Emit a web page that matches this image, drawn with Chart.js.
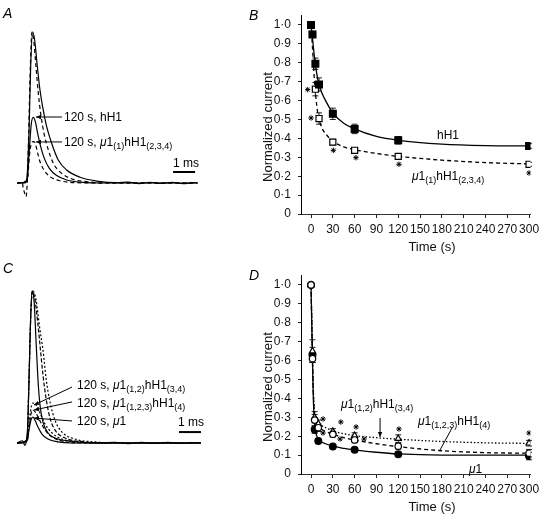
<!DOCTYPE html>
<html><head><meta charset="utf-8">
<script src="https://cdn.jsdelivr.net/npm/chart.js@4.4.0/dist/chart.umd.min.js"></script>
<style>
html,body{margin:0;padding:0;background:#fff;width:545px;height:519px;overflow:hidden;}
body{position:relative;}
canvas{position:absolute;}
.t{position:absolute;font-family:'Liberation Sans',Arial,sans-serif;font-size:12px;line-height:12px;white-space:nowrap;color:#000;}
.t sub{font-size:9px;line-height:0;position:relative;top:3px;vertical-align:baseline;}
.L{position:absolute;font-family:'Liberation Sans',Arial,sans-serif;font-style:italic;font-size:14px;line-height:14px;color:#000;}
.ax{position:absolute;font-family:'Liberation Sans',Arial,sans-serif;font-size:13px;line-height:14px;white-space:nowrap;color:#111;transform:translate(-50%,-50%);}
.ay{position:absolute;font-family:'Liberation Sans',Arial,sans-serif;font-size:13px;line-height:14px;white-space:nowrap;color:#111;transform:translate(-50%,-50%) rotate(-90deg);}
</style></head><body>
<canvas id="cA" width="260" height="260" style="left:0;top:0"></canvas>
<canvas id="cB" width="300" height="260" style="left:245px;top:0"></canvas>
<canvas id="cC" width="260" height="259" style="left:0;top:260px"></canvas>
<canvas id="cD" width="300" height="260" style="left:245px;top:260px"></canvas>

<div class="L" style="left:3px;top:6px">A</div>
<div class="L" style="left:249px;top:8px">B</div>
<div class="L" style="left:3px;top:261px">C</div>
<div class="L" style="left:249px;top:268px">D</div>

<div class="ay" style="left:268px;top:127px">Normalized current</div>
<div class="ax" style="left:432px;top:247px">Time (s)</div>
<div class="ay" style="left:268px;top:387px">Normalized current</div>
<div class="ax" style="left:432px;top:507px">Time (s)</div>

<div class="t" style="left:64px;top:111px">120 s, hH1</div>
<div class="t" style="left:64px;top:136px">120 s, <i>μ</i>1<sub>(1)</sub>hH1<sub>(2,3,4)</sub></div>
<div class="t" style="left:173px;top:157px">1 ms</div>

<div class="t" style="left:437px;top:129px">hH1</div>
<div class="t" style="left:412px;top:170px"><i>μ</i>1<sub>(1)</sub>hH1<sub>(2,3,4)</sub></div>

<div class="t" style="left:77px;top:379px">120 s, <i>μ</i>1<sub>(1,2)</sub>hH1<sub>(3,4)</sub></div>
<div class="t" style="left:77px;top:397px">120 s, <i>μ</i>1<sub>(1,2,3)</sub>hH1<sub>(4)</sub></div>
<div class="t" style="left:77px;top:415px">120 s, <i>μ</i>1</div>
<div class="t" style="left:178px;top:416px">1 ms</div>

<div class="t" style="left:341px;top:398px"><i>μ</i>1<sub>(1,2)</sub>hH1<sub>(3,4)</sub></div>
<div class="t" style="left:418px;top:415px"><i>μ</i>1<sub>(1,2,3)</sub>hH1<sub>(4)</sub></div>
<div class="t" style="left:469px;top:463px"><i>μ</i>1</div>

<script>
// ---------- Data ----------
const FONT = "'Liberation Sans', Arial, sans-serif";
const X_TICKS = [0, 30, 60, 90, 120, 150, 180, 210, 240, 270, 300];
const Y_TICKS = [0, 0.1, 0.2, 0.3, 0.4, 0.5, 0.6, 0.7, 0.8, 0.9, 1.0];
const Y_TICK_LABELS = ['0', '0·1', '0·2', '0·3', '0·4', '0·5', '0·6', '0·7', '0·8', '0·9', '1·0'];

// Panel B
const timesB = [0, 2, 6, 11, 30, 60, 120, 300];
const hH1 = [1.0, 0.95, 0.795, 0.685, 0.53, 0.45, 0.39, 0.36];
const hH1Err = [0, 0.01, 0.03, 0.035, 0.03, 0.025, 0.02, 0.012];
const mu1hH1 = [1.0, 0.95, 0.66, 0.505, 0.38, 0.337, 0.305, 0.263];
const mu1hH1Err = [0, 0.01, 0.035, 0.03, 0.015, 0.01, 0.012, 0.01];
const fitTimesB = [0, 2, 5, 8, 10, 15, 20, 30, 45, 60, 90, 120, 180, 240, 300];
const hH1Fit = [1.0, 0.93, 0.82, 0.74, 0.70, 0.64, 0.60, 0.535, 0.48, 0.45, 0.41, 0.39, 0.37, 0.362, 0.36];
const mu1hH1Fit = [1.0, 0.88, 0.69, 0.57, 0.52, 0.455, 0.425, 0.385, 0.355, 0.34, 0.32, 0.305, 0.285, 0.272, 0.265];
const starsB = [[-4.6, 0.658], [0, 0.508], [30.7, 0.337], [61.8, 0.298], [121, 0.263], [300, 0.217]];

// Panel D
const timesD = [0, 2, 5, 10, 30, 60, 120, 300];
const mu1 = [1.0, 0.63, 0.235, 0.175, 0.145, 0.128, 0.104, 0.095];
const mu1Err = [0, 0.04, 0.02, 0.01, 0.008, 0.008, 0.01, 0.02];
const mu12 = [1.0, 0.65, 0.30, 0.265, 0.225, 0.203, 0.187, 0.163];
const mu12Err = [0, 0.06, 0.03, 0.02, 0.015, 0.015, 0.02, 0.015];
const mu123 = [1.0, 0.61, 0.285, 0.245, 0.21, 0.18, 0.147, 0.11];
const mu123Err = [0, 0.02, 0.03, 0.02, 0.015, 0.015, 0.015, 0.02];
const fitTimesD = [0, 1, 2, 3, 5, 8, 10, 15, 20, 30, 45, 60, 90, 120, 180, 240, 300];
const mu1Fit = [1.0, 0.8, 0.6, 0.42, 0.26, 0.2, 0.185, 0.168, 0.16, 0.147, 0.136, 0.128, 0.115, 0.106, 0.1, 0.1, 0.1];
const mu123Fit = [1.0, 0.8, 0.6, 0.45, 0.3, 0.26, 0.25, 0.235, 0.225, 0.21, 0.193, 0.18, 0.16, 0.145, 0.123, 0.113, 0.11];
const mu12Fit = [1.0, 0.82, 0.65, 0.47, 0.32, 0.28, 0.27, 0.255, 0.245, 0.228, 0.213, 0.203, 0.192, 0.184, 0.172, 0.165, 0.162];
const starsD = [[16.5, 0.291], [16.5, 0.217], [41, 0.275], [40, 0.185], [62, 0.249], [73, 0.185], [121, 0.238], [300, 0.217]];

// Panel A current traces: [time (ms), normalized current]
const traceA_hH1_0 = [[-0.45,0],[-0.09,0],[0,0.042],[0.09,0.33],[0.167,0.77],[0.258,1.0],[0.348,0.947],[0.47,0.77],[0.59,0.616],[0.71,0.506],[0.894,0.373],[1.12,0.263],[1.42,0.152],[1.8,0.086],[2.41,0.038],[3.17,0.013],[4.08,0.002],[4.6,0.006],[5.1,-0.004],[5.6,0.005],[6.1,-0.003],[6.6,0.004],[7.1,-0.004],[7.6,0.003],[7.75,0]];
const traceA_mu_0 = [[-0.45,0],[-0.318,0],[-0.227,0.009],[-0.167,-0.035],[-0.106,-0.068],[-0.045,-0.09],[0.015,0.02],[0.076,0.33],[0.152,0.77],[0.227,1.0],[0.303,0.947],[0.409,0.77],[0.515,0.594],[0.621,0.461],[0.773,0.329],[0.97,0.219],[1.197,0.13],[1.576,0.064],[2.106,0.024],[2.864,0.007],[3.5,0],[7.75,0]];
const traceA_hH1_120 = [[-0.45,0],[0,0.009],[0.106,0.219],[0.197,0.395],[0.288,0.435],[0.379,0.406],[0.485,0.329],[0.621,0.241],[0.788,0.163],[1.015,0.097],[1.348,0.049],[1.803,0.02],[2.56,0.004],[3.5,0],[7.75,0]];
const traceA_mu_120 = [[-0.45,0],[0.015,0.02],[0.106,0.174],[0.197,0.263],[0.288,0.274],[0.379,0.263],[0.47,0.207],[0.591,0.141],[0.773,0.086],[1.045,0.042],[1.5,0.015],[2.258,0.002],[3.2,0],[7.75,0]];

// Panel C current traces
const traceC_mu1_0 = [[-0.45,0],[-0.2,0.015],[-0.1,-0.015],[-0.045,0],[0.045,0.151],[0.136,0.678],[0.227,1.0],[0.318,0.941],[0.409,0.678],[0.5,0.414],[0.59,0.25],[0.727,0.138],[0.955,0.066],[1.27,0.033],[1.95,0.013],[3.32,0],[4.0,0.005],[4.6,-0.004],[5.2,0.004],[5.8,-0.003],[6.4,0.004],[7.0,-0.003],[7.6,0.003],[7.9,0]];
const traceC_mu12_0 = [[-0.45,0],[0,0.02],[0.09,0.414],[0.18,0.875],[0.25,1.0],[0.364,0.941],[0.5,0.776],[0.59,0.645],[0.727,0.447],[0.864,0.296],[1.045,0.164],[1.27,0.086],[1.73,0.033],[2.64,0.007],[3.5,0],[7.9,0]];
const traceC_mu123_0 = [[-0.45,0],[0,0.02],[0.09,0.414],[0.18,0.875],[0.27,1.0],[0.41,0.941],[0.59,0.743],[0.727,0.612],[0.864,0.428],[1.045,0.27],[1.27,0.151],[1.59,0.072],[2.18,0.026],[3.09,0.007],[4,0],[7.9,0]];
const traceC_mu12_120 = [[-0.45,0],[0,0.013],[0.09,0.118],[0.18,0.23],[0.27,0.263],[0.41,0.25],[0.59,0.197],[0.82,0.125],[1.14,0.066],[1.59,0.026],[2.41,0.007],[3.2,0],[7.9,0]];
const traceC_mu123_120 = [[-0.45,0],[0,0.013],[0.09,0.099],[0.18,0.191],[0.27,0.217],[0.41,0.197],[0.59,0.145],[0.82,0.086],[1.14,0.039],[1.59,0.013],[2.3,0],[7.9,0]];
const traceC_mu1_120 = [[-0.45,0],[0,0.013],[0.09,0.086],[0.18,0.151],[0.27,0.171],[0.36,0.151],[0.5,0.105],[0.68,0.059],[0.95,0.026],[1.41,0.007],[2,0],[7.9,0]];

// ---------- Helpers ----------
const xy = (xs, ys) => xs.map((x, i) => ({x, y: ys[i]}));
const pairs = arr => arr.map(p => ({x: p[0], y: p[1]}));

const marksPlugin = {
  id: 'marks',
  beforeDatasetsDraw(chart) {
    const ctx = chart.ctx, ys = chart.scales.y;
    ctx.save();
    ctx.strokeStyle = '#222'; ctx.lineWidth = 1; ctx.setLineDash([]);
    chart.data.datasets.forEach((ds, di) => {
      if (!ds.errors) return;
      const meta = chart.getDatasetMeta(di);
      meta.data.forEach((pt, j) => {
        const e = ds.errors[j]; if (!e) return;
        const v = ds.data[j].y;
        const y1 = ys.getPixelForValue(v - e), y2 = ys.getPixelForValue(v + e);
        ctx.beginPath();
        ctx.moveTo(pt.x, y1); ctx.lineTo(pt.x, y2);
        ctx.moveTo(pt.x - 3, y1); ctx.lineTo(pt.x + 3, y1);
        ctx.moveTo(pt.x - 3, y2); ctx.lineTo(pt.x + 3, y2);
        ctx.stroke();
      });
    });
    ctx.restore();
  },
  afterDatasetsDraw(chart, args, o) {
    const {ctx} = chart, xs = chart.scales.x, ys = chart.scales.y;
    ctx.save();
    ctx.strokeStyle = '#000'; ctx.fillStyle = '#000'; ctx.setLineDash([]);
    (o.arrows || []).forEach(a => {
      const x1 = xs.getPixelForValue(a.from[0]), y1 = ys.getPixelForValue(a.from[1]);
      const x2 = xs.getPixelForValue(a.to[0]), y2 = ys.getPixelForValue(a.to[1]);
      ctx.lineWidth = 1;
      ctx.beginPath(); ctx.moveTo(x1, y1); ctx.lineTo(x2, y2); ctx.stroke();
      if (a.head) {
        const ang = Math.atan2(y2 - y1, x2 - x1), L = 5, W = 2.2;
        const c = Math.cos(ang), s = Math.sin(ang);
        ctx.beginPath(); ctx.moveTo(x2, y2);
        ctx.lineTo(x2 - L * c + W * s, y2 - L * s - W * c);
        ctx.lineTo(x2 - L * c - W * s, y2 - L * s + W * c);
        ctx.closePath(); ctx.fill();
      }
    });
    (o.bars || []).forEach(b => {
      ctx.lineWidth = 2;
      const y = ys.getPixelForValue(b.y);
      ctx.beginPath(); ctx.moveTo(xs.getPixelForValue(b.x0), y); ctx.lineTo(xs.getPixelForValue(b.x1), y); ctx.stroke();
    });
    ctx.restore();
  }
};
Chart.register(marksPlugin);

function traceDs(arr, dash, width) {
  return {data: pairs(arr), showLine: true, borderColor: '#000', borderWidth: width || 1.2,
          borderDash: dash || [], pointRadius: 0, cubicInterpolationMode: 'monotone', fill: false};
}

function traceChart(id, datasets, pad, ymin, ymax, marks) {
  return new Chart(document.getElementById(id), {
    type: 'line',
    data: {datasets},
    options: {
      responsive: false, animation: false, devicePixelRatio: 1,
      layout: {padding: pad},
      plugins: {legend: {display: false}, tooltip: {enabled: false}, marks},
      scales: {
        x: {type: 'linear', display: false, min: -0.7727, max: 8.5455},
        y: {type: 'linear', display: false, min: ymin, max: ymax}
      }
    }
  });
}

function fitDs(xs, ys, dash) {
  return {data: xy(xs, ys), showLine: true, borderColor: '#000', borderWidth: 1.3, borderDash: dash || [],
          pointRadius: 0, cubicInterpolationMode: 'monotone', fill: false, order: 10};
}
function pointDs(xs, ys, errs, style, filled, r, order) {
  return {data: xy(xs, ys), showLine: false, pointStyle: style, pointRadius: r,
          pointBackgroundColor: filled ? '#000' : '#fff', pointBorderColor: '#000', pointBorderWidth: 1.2,
          errors: errs, order};
}
function starDs(arr) {
  return {data: pairs(arr), showLine: false, pointStyle: 'star', pointRadius: 2.7,
          pointBorderColor: '#000', pointBorderWidth: 1, order: 1};
}

function summaryChart(id, datasets, marks) {
  return new Chart(document.getElementById(id), {
    type: 'line',
    data: {datasets},
    options: {
      responsive: false, animation: false, devicePixelRatio: 1,
      layout: {padding: {left: 0, right: 14.5, top: 15.5, bottom: 0}},
      plugins: {legend: {display: false}, tooltip: {enabled: false}, marks},
      scales: {
        x: {
          type: 'linear', min: -13.8, max: 302,
          afterFit(s) { s.height = 46; },
          afterBuildTicks(s) { s.ticks = X_TICKS.map(v => ({value: v})); },
          ticks: {font: {family: FONT, size: 12}, color: '#111', padding: 4, maxRotation: 0, autoSkip: false},
          grid: {display: true, drawOnChartArea: false, drawTicks: true, tickLength: 4, color: '#222'},
          border: {display: true, color: '#333', width: 1, dash: [3, 2]},
          title: {display: false}
        },
        y: {
          type: 'linear', min: 0, max: 1.05,
          afterFit(s) { s.width = 56; },
          afterBuildTicks(s) { s.ticks = Y_TICKS.map(v => ({value: v})); },
          ticks: {font: {family: FONT, size: 12}, color: '#111', padding: 7, autoSkip: false,
                  callback: (v, i) => Y_TICK_LABELS[i]},
          grid: {display: true, drawOnChartArea: false, drawTicks: true, tickLength: 3, color: '#222'},
          border: {display: true, color: '#000', width: 1},
          title: {display: false}
        }
      }
    }
  });
}

// ---------- Panel A ----------
traceChart('cA', [
  traceDs(traceA_hH1_0), traceDs(traceA_mu_0, [4, 3]),
  traceDs(traceA_hH1_120), traceDs(traceA_mu_120, [4, 3])
], {left: 10, top: 20, right: 45, bottom: 60}, -0.1126, 1.0795, {
  arrows: [{from: [1.59, 0.437], to: [0.41, 0.437], head: true},
           {from: [1.59, 0.272], to: [0.41, 0.272], head: true}],
  bars: [{x0: 6.64, x1: 7.64, y: 0.073}]
});

// ---------- Panel C ----------
traceChart('cC', [
  traceDs(traceC_mu1_0), traceDs(traceC_mu12_0, [4, 2]), traceDs(traceC_mu123_0, [2, 2]),
  traceDs(traceC_mu12_120, [2, 2]), traceDs(traceC_mu123_120, [4, 2]), traceDs(traceC_mu1_120)
], {left: 10, top: 20, right: 45, bottom: 64}, -0.0789, 1.0724, {
  arrows: [{from: [2.045, 0.368], to: [0.318, 0.25], head: true},
           {from: [2.045, 0.27], to: [0.318, 0.217], head: true},
           {from: [2.045, 0.145], to: [0.318, 0.164], head: true}],
  bars: [{x0: 6.91, x1: 7.91, y: 0.072}]
});

// ---------- Panel B ----------
summaryChart('cB', [
  fitDs(fitTimesB, hH1Fit),
  fitDs(fitTimesB, mu1hH1Fit, [4, 3]),
  pointDs(timesB, mu1hH1, mu1hH1Err, 'rect', false, 4.3, 5),
  pointDs(timesB, hH1, hH1Err, 'rect', true, 4.8, 4),
  starDs(starsB)
], {});

// ---------- Panel D ----------
summaryChart('cD', [
  fitDs(fitTimesD, mu1Fit),
  fitDs(fitTimesD, mu123Fit, [4, 3]),
  fitDs(fitTimesD, mu12Fit, [1.5, 2]),
  pointDs(timesD, mu1, mu1Err, 'circle', true, 3.4, 6),
  pointDs(timesD, mu12, mu12Err, 'triangle', false, 3.6, 5),
  pointDs(timesD, mu123, mu123Err, 'circle', false, 3.2, 4),
  starDs(starsD)
], {
  arrows: [{from: [95, 0.296], to: [95, 0.196], head: true},
           {from: [194, 0.243], to: [177.5, 0.127], head: false}]
});
</script>
</body></html>
